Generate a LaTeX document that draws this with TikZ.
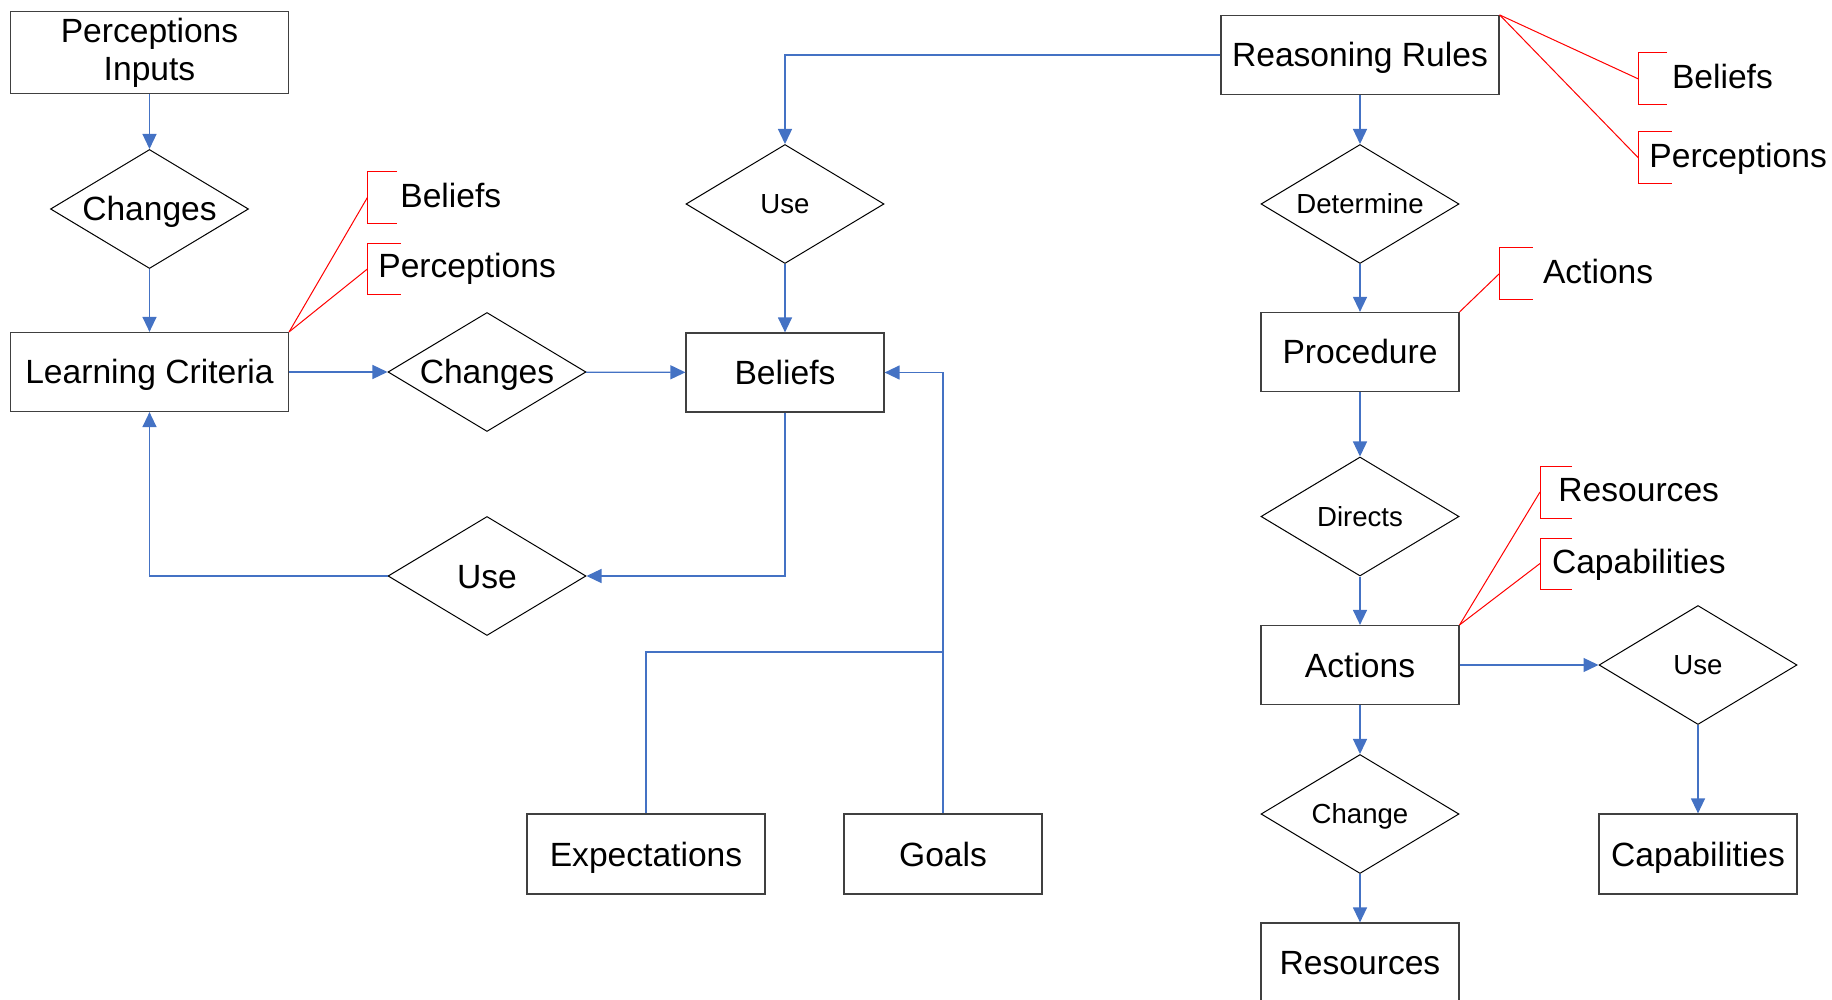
\documentclass[tikz,border=0pt]{standalone}
\usepackage{fontspec}
\setmainfont{Liberation Sans}
\usepackage{xcolor}
\usepackage{tikz}
\usetikzlibrary{arrows.meta,shapes.geometric}

\definecolor{linkblue}{HTML}{4472C4}
\newcommand{\bigtext}{\fontsize{16.8}{19.2}\selectfont}
\newcommand{\smalltext}{\fontsize{13.8}{16}\selectfont}

\begin{document}
\begin{tikzpicture}[x=0.5pt, y=-0.5pt,
    plainbox/.style={draw=black!75, line width=0.6pt, inner sep=0pt,
        minimum width=99pt, minimum height=39.5pt, font=\bigtext},
    box/.style={plainbox, text height=12pt, text depth=0pt},
    choice/.style={diamond, draw=black, line width=0.5pt, inner sep=0pt,
        aspect=1.66, minimum width=99pt, minimum height=59.5pt,
        font=\smalltext, text height=9.9pt, text depth=0pt},
    bigchoice/.style={choice, font=\bigtext, text height=12pt},
    link/.style={draw=linkblue, line width=0.65pt},
    flow/.style={link, -{Triangle[length=7.5pt, width=7pt]}},
    note/.style={draw=red, line width=0.5pt},
    notetext/.style={font=\bigtext, anchor=west, inner sep=0pt,
        text height=12pt, text depth=0pt}]
    \useasboundingbox (0,0) rectangle (1832,1000);

    % learning loop
    \node[plainbox, minimum width=139pt, minimum height=41pt, align=center] (pi) at (149.5,52.6) {Perceptions\\Inputs};
    \node[bigchoice] (ch1) at (149.5,209) {Changes};
    \node[box, minimum width=139pt] (lc) at (149.5,372) {Learning Criteria};
    \node[bigchoice] (ch2) at (487,372) {Changes};
    \node[box] (bel) at (785,372.5) {Beliefs};
    \node[choice] (use1) at (785,204) {Use};
    \node[bigchoice] (use2) at (487,576) {Use};
    \node[box, minimum width=119pt, minimum height=40pt] (exp) at (646,854) {Expectations};
    \node[box, minimum height=40pt] (goals) at (943,854) {Goals};
    \coordinate (merge) at (943,652);

    \draw[flow] (pi) -- (ch1);
    \draw[flow] (ch1) -- (lc);
    \draw[flow] (lc) -- (ch2);
    \draw[flow] (ch2) -- (bel);
    \draw[flow] (use1) -- (bel);
    \draw[flow] (bel.south) |- (use2.east);
    \draw[flow] (use2.west) -| (lc.south);
    \draw[link] (exp.north) |- (merge);
    \draw[flow] (goals.north) |- (bel.east);

    % reasoning chain
    \node[box, minimum width=139pt] (rules) at (1360,55) {Reasoning Rules};
    \node[choice] (det) at (1360,204) {Determine};
    \node[box] (proc) at (1360,352) {Procedure};
    \node[choice] (dir) at (1360,516.5) {Directs};
    \node[box] (act) at (1360,665) {Actions};
    \node[choice] (use3) at (1698,665) {Use};
    \node[box, minimum height=40pt] (capab) at (1698,854) {Capabilities};
    \node[choice] (chg) at (1360,814) {Change};
    \node[box] (res) at (1360,962.5) {Resources};

    \draw[flow] (rules.west) -| (use1.north);
    \draw[flow] (rules) -- (det);
    \draw[flow] (det) -- (proc);
    \draw[flow] (proc) -- (dir);
    \draw[flow] (dir) -- (act);
    \draw[flow] (act) -- (use3);
    \draw[flow] (use3) -- (capab);
    \draw[flow] (act) -- (chg);
    \draw[flow] (chg) -- (res);

    % red notes
    \coordinate (lcb) at (367.4,197.5);
    \coordinate (lcp) at (367.4,269);
    \draw[note] (lc.north east) -- (lcb);
    \draw[note] (lc.north east) -- (lcp);
    \draw[note] (397,171.7) -| (367.4,223.3) -- (397,223.3);
    \draw[note] (401,243.3) -| (367.4,295) -- (401,295);
    \node[notetext] (lcbt) at (400,196) {Beliefs};
    \node[notetext] (lcpt) at (378,266) {Perceptions};

    \coordinate (rrb) at (1638.5,79);
    \coordinate (rrp) at (1638.5,158);
    \draw[note] (rules.north east) -- (rrb);
    \draw[note] (rules.north east) -- (rrp);
    \draw[note] (1667,53) -| (1638.5,105) -- (1667,105);
    \draw[note] (1671.6,132) -| (1638.5,184) -- (1671.6,184);
    \node[notetext] (rrbt) at (1671.6,76.5) {Beliefs};
    \node[notetext] (rrpt) at (1649,155.5) {Perceptions};

    \coordinate (pra) at (1499.5,273.5);
    \draw[note] (proc.north east) -- (pra);
    \draw[note] (1532.5,247.7) -| (1499.5,299.3) -- (1532.5,299.3);
    \node[notetext] (prat) at (1542.6,271.5) {Actions};

    \coordinate (acr) at (1540,492);
    \coordinate (acc) at (1540,563.5);
    \draw[note] (act.north east) -- (acr);
    \draw[note] (act.north east) -- (acc);
    \draw[note] (1572,466) -| (1540,518) -- (1572,518);
    \draw[note] (1572,538) -| (1540,589) -- (1572,589);
    \node[notetext] (acrt) at (1558,489.6) {Resources};
    \node[notetext] (acct) at (1551.6,561) {Capabilities};
\end{tikzpicture}
\end{document}
